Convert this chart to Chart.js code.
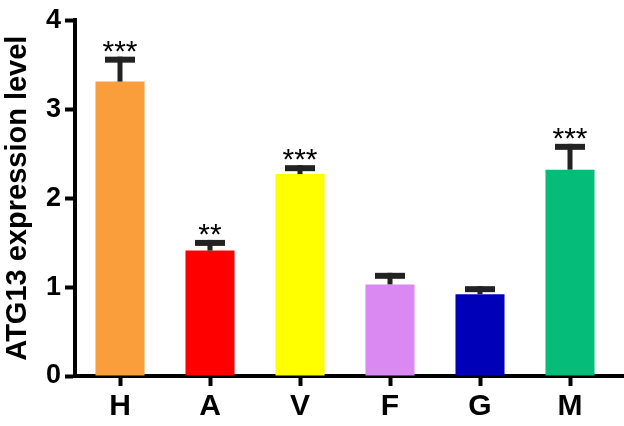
<!DOCTYPE html>
<html>
<head>
<meta charset="utf-8">
<script src="https://cdn.jsdelivr.net/npm/chart.js@4"></script>
<style>
	html, body { margin: 0; padding: 0; background: #fff; }
	#wrap { width: 624px; height: 426px; }
</style>
</head>
<body>
<div id="wrap"><canvas id="atgChart" width="624" height="426"></canvas></div>
<script>
const groups = ['H', 'A', 'V', 'F', 'G', 'M'];
const meanValues = [3.31, 1.41, 2.27, 1.03, 0.92, 2.32];
const sdValues = [0.28, 0.12, 0.10, 0.13, 0.09, 0.29];
const starLabels = ['***', '**', '***', '', '', '***'];
const barColors = ['#FA9E3C', '#FF0000', '#FFFF00', '#DA88F2', '#0000B8', '#05BD78'];
const yTicks = [0, 1, 2, 3, 4];

// error bars + significance stars
const errorBars = {
	id: 'errorBars',
	afterDatasetsDraw(chart) {
		const ctx = chart.ctx;
		const y = chart.scales.y;
		const meta = chart.getDatasetMeta(0);
		ctx.save();
		ctx.fillStyle = '#222';
		meta.data.forEach((bar, i) => {
			const yMean = y.getPixelForValue(meanValues[i]);
			const yTop = y.getPixelForValue(meanValues[i] + sdValues[i]);
			ctx.fillRect(bar.x - 2.5, yTop, 5, yMean - yTop);
			ctx.fillRect(bar.x - 15, yTop, 30, 6);
			if (starLabels[i]) {
				ctx.fillStyle = '#000';
				ctx.font = '30px "Liberation Sans", Arial, sans-serif';
				ctx.textAlign = 'center';
				ctx.textBaseline = 'alphabetic';
				ctx.fillText(starLabels[i], bar.x, yTop + 4);
				ctx.fillStyle = '#222';
			}
		});
		// x axis line runs on to the right edge
		ctx.fillStyle = '#000';
		ctx.fillRect(chart.chartArea.right, y.getPixelForValue(0) - 2, chart.width - chart.chartArea.right, 4);
		ctx.restore();
	}
};

new Chart(document.getElementById('atgChart'), {
	type: 'bar',
	data: {
		labels: groups,
		datasets: [{
			data: meanValues,
			backgroundColor: barColors,
			borderWidth: 0,
			barPercentage: 0.545,
			categoryPercentage: 1
		}]
	},
	options: {
		responsive: false,
		animation: false,
		layout: { padding: { top: 15, right: 9, left: 0, bottom: 0 } },
		plugins: {
			legend: { display: false },
			tooltip: { enabled: false }
		},
		scales: {
			x: {
				grid: {
					offset: false,
					drawOnChartArea: false,
					drawTicks: true,
					tickLength: 10,
					tickWidth: 4,
					tickColor: '#000'
				},
				border: { display: true, color: '#000', width: 4 },
				ticks: {
					color: '#000',
					padding: 3,
					font: { family: '"Liberation Sans", Arial, sans-serif', size: 30, weight: 'bold' }
				},
				afterFit(scale) { scale.height = 50; }
			},
			y: {
				min: 0,
				max: 4,
				afterBuildTicks(scale) { scale.ticks = yTicks.map(v => ({ value: v })); },
				grid: {
					drawOnChartArea: false,
					drawTicks: true,
					tickLength: 10,
					tickWidth: 4,
					tickColor: '#000'
				},
				border: { display: true, color: '#000', width: 4 },
				ticks: {
					color: '#000',
					padding: 4,
					font: { family: '"Liberation Sans", Arial, sans-serif', size: 27, weight: 'bold' }
				},
				title: {
					display: true,
					text: 'ATG13 expression level',
					color: '#000',
					padding: { top: 1, bottom: 0 },
					font: { family: '"Liberation Sans", Arial, sans-serif', size: 29, weight: 'bold' }
				},
				afterFit(scale) { scale.width = 75; }
			}
		}
	},
	plugins: [errorBars]
});
</script>
</body>
</html>
